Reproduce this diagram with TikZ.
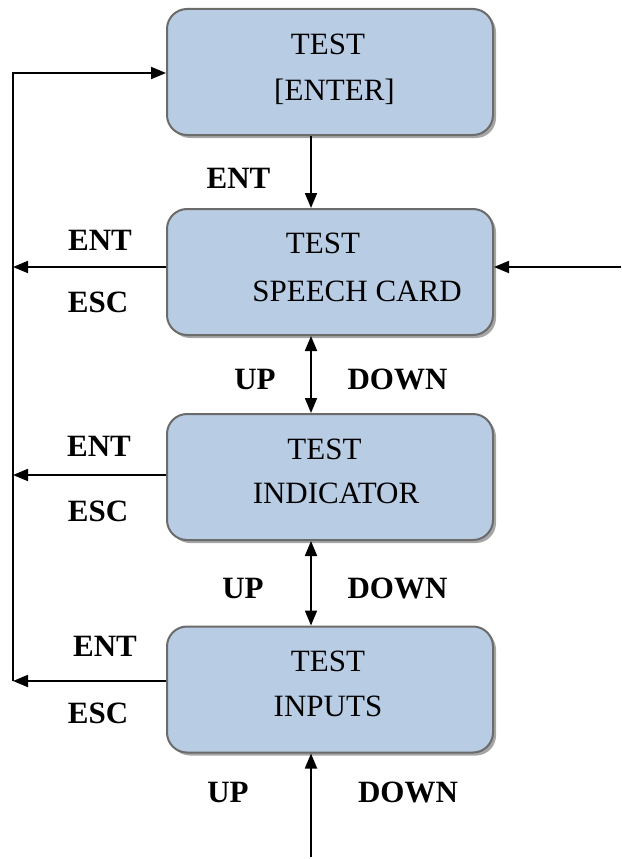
\documentclass[tikz,border=0pt]{standalone}
\usepackage{fontspec}
\setmainfont{Liberation Serif}
\usetikzlibrary{arrows.meta,shadows,calc}
\begin{document}
\begin{tikzpicture}[x=1pt,y=-1pt,
  box/.style={draw=black!58,line width=2pt,rounded corners=20pt,fill={rgb,255:red,184;green,204;blue,228},
    minimum width=326pt,minimum height=126pt,inner sep=0pt,
    drop shadow={shadow xshift=3pt,shadow yshift=-3pt,fill=black!35,opacity=1}},
  txt/.style={inner sep=0pt,font=\fontsize{31}{37}\selectfont},
  lbl/.style={inner sep=0pt,font=\fontsize{31}{37}\selectfont\bfseries},
  arr/.style={line width=1.8pt,-{Triangle[length=15pt,width=12pt]}},
  darr/.style={line width=1.8pt,{Triangle[length=15pt,width=12pt]}-{Triangle[length=15pt,width=12pt]}}]
\useasboundingbox (0,0) rectangle (621,859);
% boxes
\node[box] (b1) at (330,72) {};
\node[box] (b2) at (330,272) {};
\node[box] (b3) at (330,477) {};
\node[box] (b4) at (330,689.5) {};
% box texts
\node[txt] (t1a) at (328,44) {TEST};
\node[txt] (t1b) at (334.5,92) {[ENTER]};
\node[txt] (t2a) at (323,243) {TEST};
\node[txt] (t2b) at (357,291) {SPEECH CARD};
\node[txt] (t3a) at (324.5,449) {TEST};
\node[txt] (t3b) at (336,493.5) {INDICATOR};
\node[txt] (t4a) at (328,661) {TEST};
\node[txt] (t4b) at (328,706) {INPUTS};
% coordinates
\coordinate (col) at (311,0);
\coordinate (L) at (13,0);
\coordinate (R) at (621,0);
\coordinate (bot) at (311,857);
\coordinate (y1) at (0,73);
\coordinate (y2) at (0,267);
\coordinate (y3) at (0,475);
\coordinate (y4) at (0,681);
% connectors
\draw[arr] (col |- b1.south) -- (col |- b2.north);
\draw[darr] (col |- b2.south) -- (col |- b3.north);
\draw[darr] (col |- b3.south) -- (col |- b4.north);
\draw[arr] (bot) -- (col |- b4.south);
\draw[arr] (R |- y2) -- (b2.east |- y2);
\draw[arr] (b2.west |- y2) -- (L |- y2);
\draw[arr] (b3.west |- y3) -- (L |- y3);
\draw[arr] (b4.west |- y4) -- (L |- y4);
\draw[arr] (L |- y4) -- (L |- y1) -- (b1.west |- y1);
% labels
\node[lbl] (l1) at (238.5,178) {ENT};
\node[lbl] (l2e) at (100,240) {ENT};
\node[lbl] (l2s) at (98,302) {ESC};
\node[lbl] (l2u) at (255,379) {UP};
\node[lbl] (l2d) at (397.5,379) {DOWN};
\node[lbl] (l3e) at (99,446) {ENT};
\node[lbl] (l3s) at (98,511) {ESC};
\node[lbl] (l3u) at (243,588) {UP};
\node[lbl] (l3d) at (397.5,588) {DOWN};
\node[lbl] (l4e) at (105,646) {ENT};
\node[lbl] (l4s) at (98,713) {ESC};
\node[lbl] (l4u) at (228,792) {UP};
\node[lbl] (l4d) at (408,792) {DOWN};
\end{tikzpicture}
\end{document}
